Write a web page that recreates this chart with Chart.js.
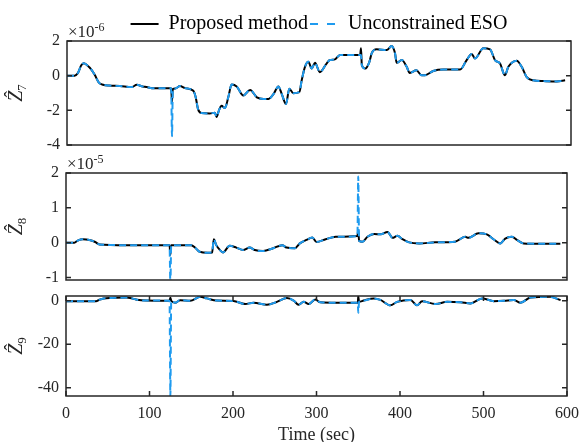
<!DOCTYPE html>
<html>
<head>
<meta charset="utf-8">
<script src="https://cdn.jsdelivr.net/npm/chart.js@4.4.1/dist/chart.umd.min.js"></script>
<style>
html,body{margin:0;padding:0;background:#fff;overflow:hidden;width:582px;height:442px;}
.panel{position:absolute;left:0;width:582px;}
#p1{top:0;height:150px;}
#p2{top:150px;height:135px;}
#p3{top:285px;height:160px;}
</style>
</head>
<body>
<div class="panel" id="p1"><canvas id="c1"></canvas></div>
<div class="panel" id="p2"><canvas id="c2"></canvas></div>
<div class="panel" id="p3"><canvas id="c3"></canvas></div>
<script>
// ---------- data ----------
const seriesNames = ['Proposed method', 'Unconstrained ESO'];
const timeTicks = [0, 100, 200, 300, 400, 500, 600];

// Z7 (x 1e-6)
const z7Ticks = [-4, -2, 0, 2];
const t7 = [0,9,13,17,20,24,29,33,38,43,50,63,77,83,90,95,101,124,125,126,129,134.5,140.5,150,153,156,160,170,176,178,181,184,188,192,196,202,210,218,226,234,240,246,251.6,255.6,260.7,264.7,269.4,276.6,279.4,283.3,287.3,291.3,295.2,301,309,313,319,325,349,350,351,355,360,362.7,368.6,380.6,386.5,390.5,392.5,398.5,404.4,408,416,422,426,436,448,468,475.8,481.8,485.7,495.6,503.6,509.5,515.5,521.4,525.4,535.4,541.3,547.3,555,567,583,593];
const z7Proposed = [0,0,0.15,0.6,0.72,0.6,0.35,0.05,-0.4,-0.52,-0.57,-0.6,-0.66,-0.53,-0.62,-0.66,-0.72,-0.72,-1.5,-0.76,-0.74,-0.6,-0.72,-0.86,-1.2,-1.93,-2.16,-2.18,-2.14,-2.38,-1.99,-1.74,-1.87,-1.25,-0.51,-0.62,-1.15,-0.82,-1.25,-1.34,-1.34,-1.05,-0.62,-1.05,-1.64,-0.76,-1.01,-0.95,-0.27,0.51,0.8,0.41,0.74,0.2,0.7,0.9,0.94,1.19,1.19,1.58,0.6,0.41,0.8,1.29,1.52,1.48,1.71,1.29,0.74,0.9,0.51,0.16,0.31,0.02,0.02,0.27,0.35,0.35,0.9,1.25,0.99,1.58,1.52,0.9,0.7,0.02,0.51,0.86,0.51,-0.08,-0.27,-0.31,-0.33,-0.27];
const z7Unconstrained = [0,0,0.15,0.6,0.72,0.6,0.35,0.05,-0.4,-0.52,-0.57,-0.6,-0.66,-0.53,-0.62,-0.66,-0.72,-0.72,-3.5,-0.76,-0.74,-0.6,-0.72,-0.86,-1.2,-1.93,-2.16,-2.18,-2.14,-2.38,-1.99,-1.74,-1.87,-1.25,-0.51,-0.62,-1.15,-0.82,-1.25,-1.34,-1.34,-1.05,-0.62,-1.05,-1.64,-0.76,-1.01,-0.95,-0.27,0.51,0.8,0.41,0.74,0.2,0.7,0.9,0.94,1.19,1.19,1.19,0.6,0.41,0.8,1.29,1.52,1.48,1.71,1.29,0.74,0.9,0.51,0.16,0.31,0.02,0.02,0.27,0.35,0.35,0.9,1.25,0.99,1.58,1.52,0.9,0.7,0.02,0.51,0.86,0.51,-0.08,-0.27,-0.31,-0.33,-0.27];

// Z8 (x 1e-5)
const z8Ticks = [-1, 0, 1, 2];
const t8 = [0,10,14,20,28,35,40,72,124,125,126,150,155,160,170,175,177,180,184,188,196,204,212,220,226,236,248,259,264,274,280,288,295,300,311,323,349,350,351,355,361,369,377,385,391,397,403,411,423,442,466,478,482,494,504,512,520,526,534,540,548,570,592];
const z8Proposed = [0,0,0.06,0.1,0.08,0.02,-0.05,-0.07,-0.07,-0.35,-0.07,-0.07,-0.15,-0.26,-0.29,-0.28,0.1,-0.07,-0.2,-0.28,-0.09,-0.14,-0.21,-0.14,-0.21,-0.24,-0.16,-0.07,-0.14,-0.16,-0.02,0.08,0.15,0.02,0.1,0.17,0.19,0.36,0.05,0.03,0.17,0.25,0.24,0.31,0.14,0.2,0.1,0.01,-0.02,0.01,0.03,0.17,0.14,0.27,0.24,0.1,-0.02,0.12,0.17,0.08,-0.02,-0.03,-0.03];
const z8Unconstrained = [0,0,0.06,0.1,0.08,0.02,-0.05,-0.07,-0.07,-1.2,-0.07,-0.07,-0.15,-0.26,-0.29,-0.28,0.1,-0.07,-0.2,-0.28,-0.09,-0.14,-0.21,-0.14,-0.21,-0.24,-0.16,-0.07,-0.14,-0.16,-0.02,0.08,0.15,0.02,0.1,0.17,0.19,1.9,0.05,0.03,0.17,0.25,0.24,0.31,0.14,0.2,0.1,0.01,-0.02,0.01,0.03,0.17,0.14,0.27,0.24,0.1,-0.02,0.12,0.17,0.08,-0.02,-0.03,-0.03];

// Z9
const z9Ticks = [-40, -20, 0];
const t9 = [0,36,40,45,55,72,80,85,96,124,125,126,130.7,136.7,148.7,160.7,168.7,180.6,200.6,214.6,224.6,240.6,252.6,264.6,272.6,278.6,284.6,290.6,298.6,304.5,324.5,349.5,350,351,356.5,368.5,376.5,388.5,396.5,412.5,420.4,426.4,442.4,456.4,472.4,484.4,498.4,512.4,524.4,536.3,544.3,556.3,580.3,592.3];
const z9Proposed = [-0.2,-0.2,0.5,1.1,1.3,1.5,1.0,0.5,0.1,0,1.4,0,-0.9,0.3,0,1.85,1.1,0.1,-0.1,-1.5,-0.9,-1.8,-0.5,1.25,0.1,-1.8,-0.5,-1.5,0.6,-0.7,-0.9,-0.9,2.1,-0.5,0.1,1.1,0.4,-2.1,-0.5,0.4,-2.1,-0.2,-1.5,-0.5,-0.7,-1.2,1.1,-0.2,0,0.4,-0.9,1.5,1.8,0.3];
const z9Unconstrained = [-0.2,-0.2,0.5,1.1,1.3,1.5,1.0,0.5,0.1,0,-43.8,0,-0.9,0.3,0,1.85,1.1,0.1,-0.1,-1.5,-0.9,-1.8,-0.5,1.25,0.1,-1.8,-0.5,-1.5,0.6,-0.7,-0.9,-0.9,-5.5,-0.5,0.1,1.1,0.4,-2.1,-0.5,0.4,-2.1,-0.2,-1.5,-0.5,-0.7,-1.2,1.1,-0.2,0,0.4,-0.9,1.5,1.8,0.3];

// ---------- styling ----------
const FONT = '"Liberation Serif", "Times New Roman", serif';
const INK = '#262626';
const BLACK = '#000000';
const BLUE = '#1f9bef';
Chart.defaults.font.family = FONT;
Chart.defaults.color = INK;

function makeDatasets(t, p, u) {
  return [
    { label: seriesNames[0], data: t.map((x, i) => ({ x: x, y: p[i] })),
      borderColor: BLACK, backgroundColor: BLACK, borderWidth: 2, pointRadius: 0, order: 1,
      cubicInterpolationMode: 'monotone' },
    { label: seriesNames[1], data: t.map((x, i) => ({ x: x, y: u[i] })),
      borderColor: BLUE, backgroundColor: BLUE, borderWidth: 2, borderDash: [7, 4], pointRadius: 0, order: 0,
      cubicInterpolationMode: 'monotone' }
  ];
}

function yScale(min, max, tickArr, width) {
  return {
    min: min, max: max,
    afterBuildTicks: s => { s.ticks = tickArr.map(v => ({ value: v })); },
    afterFit: s => { s.width = width; s.paddingTop = 0; s.paddingBottom = 0; },
    grid: { display: false, drawTicks: false },
    border: { display: false },
    ticks: { padding: 7, color: INK, font: { size: 16 } }
  };
}

const framePlugin = {
  id: 'frame',
  afterLayout(chart, args, opts) {
    // nudge the legend row down a little, keeping the plot area where it is
    if (opts.legendShift && chart.legend) {
      chart.legend.top += opts.legendShift;
      chart.legend.bottom += opts.legendShift;
    }
  },
  afterDraw(chart, args, opts) {
    const ctx = chart.ctx, a = chart.chartArea, sx = chart.scales.x, sy = chart.scales.y;
    ctx.save();
    ctx.strokeStyle = INK;
    ctx.lineWidth = 1.5;
    ctx.beginPath();
    sy.ticks.forEach(t => {
      const py = sy.getPixelForValue(t.value);
      ctx.moveTo(a.left, py); ctx.lineTo(a.left + 5, py);
      ctx.moveTo(a.right, py); ctx.lineTo(a.right - 5, py);
    });
    if (opts.xTicks) {
      sx.ticks.forEach(t => {
        const px = sx.getPixelForValue(t.value);
        ctx.moveTo(px, a.bottom); ctx.lineTo(px, a.bottom - 5);
        ctx.moveTo(px, a.top); ctx.lineTo(px, a.top + 5);
      });
    }
    ctx.stroke();
    ctx.strokeRect(a.left, a.top, a.right - a.left, a.bottom - a.top);

    ctx.fillStyle = INK;
    ctx.textAlign = 'left';
    ctx.textBaseline = 'alphabetic';
    if (opts.exp) {
      ctx.font = '17px ' + FONT;
      ctx.fillText('\u00D710', a.left + 1, a.top - 4);
      const w = ctx.measureText('\u00D710').width;
      ctx.font = '12px ' + FONT;
      ctx.fillText(opts.exp, a.left + 1 + w, a.top - 10);
    }
    if (opts.sub) {
      const cy = (a.top + a.bottom) / 2;
      ctx.translate(16, cy);
      ctx.rotate(-Math.PI / 2);
      const zFont = 'italic 20px ' + FONT;
      const sFont = '13px ' + FONT;
      ctx.font = zFont; const zw = ctx.measureText('Z').width;
      ctx.font = sFont; const sw = ctx.measureText(opts.sub).width;
      const x0 = -(zw + sw) / 2;
      ctx.font = zFont; ctx.fillText('Z', x0, 6);
      ctx.font = '19px ' + FONT; ctx.textAlign = 'center';
      ctx.fillText('\u02C6', x0 + zw / 2 + 2, 1);
      ctx.textAlign = 'left'; ctx.font = sFont;
      ctx.fillText(opts.sub, x0 + zw, 10);
    }
    ctx.restore();
  }
};

const common = {
  type: 'line',
  plugins: [framePlugin]
};

function baseOptions(padding) {
  return {
    responsive: true, maintainAspectRatio: false, animation: false, events: [],
    layout: { padding: padding },
    plugins: { legend: { display: false }, tooltip: { enabled: false } }
  };
}

// legend items take dash and width from the line datasets themselves
const legendDash = [[], [8, 9]];
function legendLabels(chart) {
  return Chart.defaults.plugins.legend.labels.generateLabels(chart).map(l => {
    const ds = chart.data.datasets[l.datasetIndex];
    l.lineWidth = ds.borderWidth;
    l.strokeStyle = ds.borderColor;
    l.lineDash = legendDash[l.datasetIndex];
    return l;
  });
}

// Chart 1 : Z7
const o1 = baseOptions({ top: 9, left: 0, right: 11, bottom: 5 });
o1.plugins.legend = {
  display: true, position: 'top', fullSize: false, align: 'center',
  labels: {
    usePointStyle: true, pointStyle: 'line', pointStyleWidth: 28, padding: 2,
    color: '#000', font: { size: 20 },
    generateLabels: legendLabels,
    sort: (a, b) => a.datasetIndex - b.datasetIndex
  }
};
o1.plugins.frame = { exp: '-6', sub: '7', xTicks: false, legendShift: 3 };
o1.scales = {
  x: { type: 'linear', min: 0, max: 600, display: false },
  y: yScale(-4, 2, z7Ticks, 67)
};
new Chart(document.getElementById('c1'), Object.assign({}, common, {
  data: { datasets: makeDatasets(t7, z7Proposed, z7Unconstrained) }, options: o1 }));

// Chart 2 : Z8
const o2 = baseOptions({ top: 23, left: 0, right: 15, bottom: 5 });
o2.plugins.frame = { exp: '-5', sub: '8', xTicks: false };
o2.scales = {
  x: { type: 'linear', min: 0, max: 600, display: false },
  y: yScale(-1.07, 2, z8Ticks, 66)
};
new Chart(document.getElementById('c2'), Object.assign({}, common, {
  data: { datasets: makeDatasets(t8, z8Proposed, z8Unconstrained) }, options: o2 }));

// Chart 3 : Z9
const o3 = baseOptions({ top: 11, left: 0, right: 15, bottom: 0 });
o3.plugins.frame = { exp: null, sub: '9', xTicks: true };
o3.scales = {
  x: {
    type: 'linear', min: 0, max: 600,
    afterBuildTicks: s => { s.ticks = timeTicks.map(v => ({ value: v })); },
    afterFit: s => { s.height = 49; s.paddingLeft = 0; s.paddingRight = 0; },
    grid: { display: false, drawTicks: false },
    border: { display: false },
    ticks: { padding: 8, maxRotation: 0, autoSkip: false, color: INK, font: { size: 16 } },
    title: { display: true, text: 'Time (sec)', color: INK, font: { size: 18 }, padding: { top: 0, bottom: -1 } }
  },
  y: yScale(-43.8, 2.2, z9Ticks, 66)
};
new Chart(document.getElementById('c3'), Object.assign({}, common, {
  data: { datasets: makeDatasets(t9, z9Proposed, z9Unconstrained) }, options: o3 }));
</script>
</body>
</html>
